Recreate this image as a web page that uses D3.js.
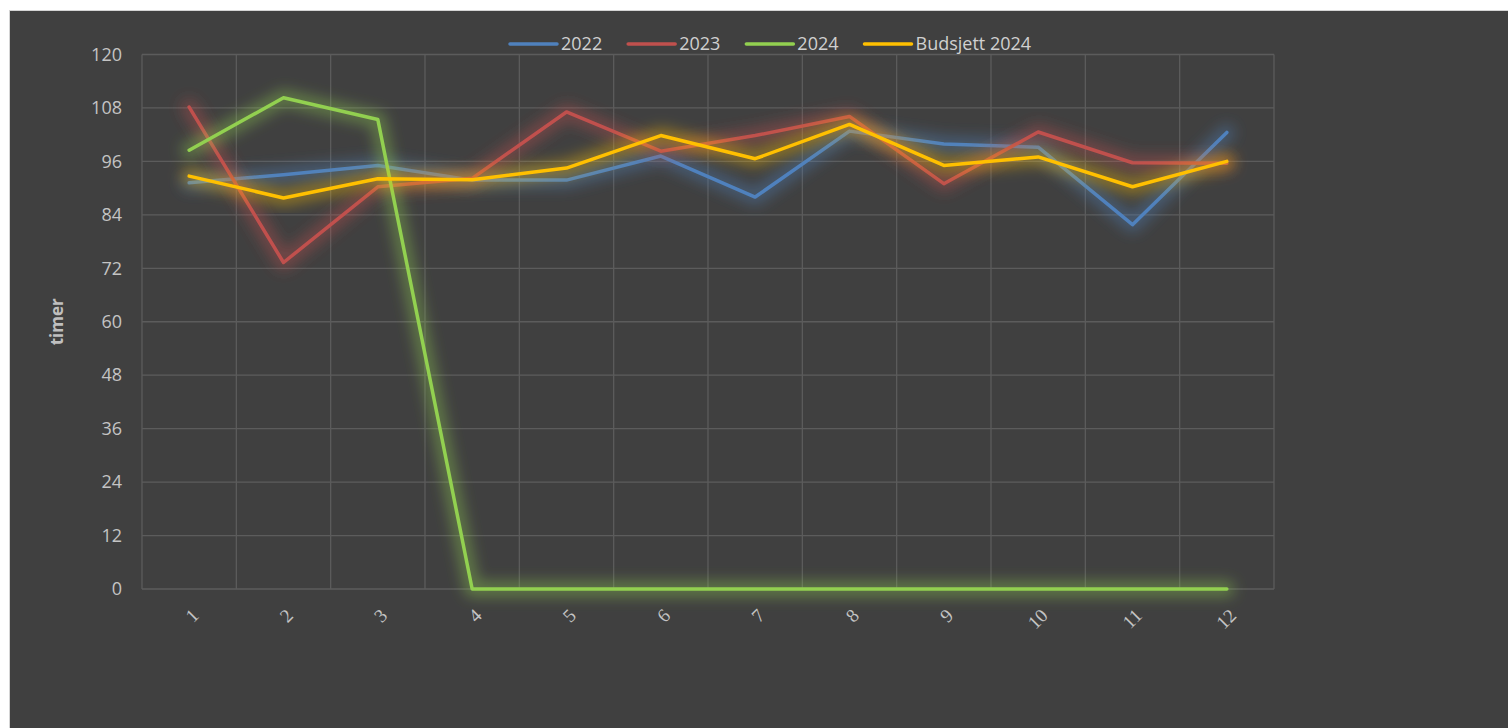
<!DOCTYPE html>
<html>
<head>
<meta charset="utf-8">
<script src="https://cdn.jsdelivr.net/npm/d3@7"></script>
<style>
  body { margin: 0; background: #fff; }
  svg { display: block; }
  .tick-label { font-family: "Open Sans", sans-serif; font-size: 18px; fill: #c4c4c4; }
  .x-label { font-family: "Liberation Serif", serif; font-size: 19px; fill: #c4c4c4; }
  .legend-text { font-family: "Open Sans", sans-serif; font-size: 18px; fill: #d0d0d0; }
  .axis-title { font-family: "Open Sans", sans-serif; font-size: 17px; font-weight: bold; fill: #bfbfbf; }
</style>
</head>
<body>
<script>
// chart data
const months = ['1', '2', '3', '4', '5', '6', '7', '8', '9', '10', '11', '12'];
const values2022 = [91.2, 93.0, 95.1, 91.8, 91.8, 97.2, 88.0, 102.8, 99.9, 99.2, 81.8, 102.5];
const values2023 = [108.2, 73.3, 90.3, 92.2, 107.1, 98.3, 101.8, 106.1, 91.0, 102.6, 95.7, 95.6];
const values2024 = [98.5, 110.3, 105.4, 0, 0, 0, 0, 0, 0, 0, 0, 0];
const valuesBudget = [92.7, 87.8, 92.1, 91.9, 94.5, 101.8, 96.6, 104.3, 95.1, 97.0, 90.3, 96.0];
const seriesNames = ['2022', '2023', '2024', 'Budsjett 2024'];
const seriesColors = ['#4f81bd', '#c0504d', '#92d050', '#ffc000'];
const yTicks = [0, 12, 24, 36, 48, 60, 72, 84, 96, 108, 120];

const width = 1508, height = 728;
const plot = {left: 142, right: 1274, top: 54.5, bottom: 589};

const series = seriesNames.map((name, i) => ({
  name: name,
  color: seriesColors[i],
  values: [values2022, values2023, values2024, valuesBudget][i],
}));

const svg = d3.select('body')
  .append('svg')
    .attr('width', width)
    .attr('height', height);

// glow filter
const defs = svg.append('defs');
const glow = defs.append('filter')
  .attr('id', 'glow')
  .attr('x', '-20%').attr('y', '-20%')
  .attr('width', '140%').attr('height', '140%');
glow.append('feGaussianBlur').attr('stdDeviation', 7);

// background panel
svg.append('rect')
  .attr('x', 9.5).attr('y', 10.5)
  .attr('width', width - 9).attr('height', height - 10)
  .attr('fill', '#404040')
  .attr('stroke', '#d4d4d4');

const x = d3.scaleBand()
  .domain(months)
  .range([plot.left, plot.right])
  .padding(0);

const y = d3.scaleLinear()
  .domain([0, 120])
  .range([plot.bottom, plot.top]);

const cx = (m) => x(m) + x.bandwidth() / 2;

// gridlines
const grid = svg.append('g').attr('class', 'grid');
grid.selectAll('.hgrid')
  .data(yTicks)
  .enter()
  .append('line')
    .attr('x1', plot.left).attr('x2', plot.right)
    .attr('y1', (d) => y(d)).attr('y2', (d) => y(d))
    .attr('stroke', '#5c5c5c')
    .attr('stroke-width', 1.3);

const edges = months.map((m) => x(m)).concat([plot.right]);
grid.selectAll('.vgrid')
  .data(edges)
  .enter()
  .append('line')
    .attr('x1', (d) => d).attr('x2', (d) => d)
    .attr('y1', plot.top).attr('y2', plot.bottom)
    .attr('stroke', '#5c5c5c')
    .attr('stroke-width', 1.3);

// y axis labels
const yAxis = svg.append('g')
  .attr('transform', `translate(${plot.left},0)`)
  .call(d3.axisLeft(y).tickValues(yTicks).tickSize(0).tickPadding(20));
yAxis.select('.domain').remove();
yAxis.attr('font-family', null).attr('font-size', null);
yAxis.selectAll('text')
  .attr('class', 'tick-label')
  .attr('fill', null);

// x axis labels
svg.append('g')
  .selectAll('text')
  .data(months)
  .enter()
  .append('text')
    .attr('class', 'x-label')
    .attr('text-anchor', 'end')
    .attr('transform', (d) => `translate(${cx(d) + 6},${plot.bottom + 23}) rotate(-45)`)
    .attr('dy', '0.35em')
    .text((d) => d);

// axis title
svg.append('text')
  .attr('class', 'axis-title')
  .attr('text-anchor', 'middle')
  .attr('transform', `translate(63,${(plot.top + plot.bottom) / 2}) rotate(-90)`)
  .text('timer');

// lines
const line = d3.line()
  .x((d, i) => cx(months[i]))
  .y((d) => y(d));

const seriesG = svg.append('g')
  .selectAll('.series')
  .data(series)
  .enter()
  .append('g')
    .attr('class', 'series');

seriesG.append('path')
  .attr('d', (d) => line(d.values))
  .attr('fill', 'none')
  .attr('stroke', (d) => d.color)
  .attr('stroke-opacity', 0.4)
  .attr('stroke-width', 16)
  .attr('stroke-linejoin', 'round')
  .attr('stroke-linecap', 'round')
  .attr('filter', 'url(#glow)');

seriesG.append('path')
  .attr('d', (d) => line(d.values))
  .attr('fill', 'none')
  .attr('stroke', (d) => d.color)
  .attr('stroke-width', 3.5)
  .attr('stroke-linejoin', 'round')
  .attr('stroke-linecap', 'round');

// legend
const legend = svg.append('g').attr('class', 'legend');
let lx = 510;
series.forEach((s) => {
  const item = legend.append('g').attr('transform', `translate(${lx},44)`);
  item.append('line')
    .attr('x1', 0).attr('x2', 47)
    .attr('stroke', s.color)
    .attr('stroke-width', 3.5)
    .attr('stroke-linecap', 'round');
  const t = item.append('text')
    .attr('class', 'legend-text')
    .attr('x', 51)
    .attr('dy', '0.35em')
    .text(s.name);
  lx += 51 + t.node().getComputedTextLength() + 26;
});
</script>
</body>
</html>
